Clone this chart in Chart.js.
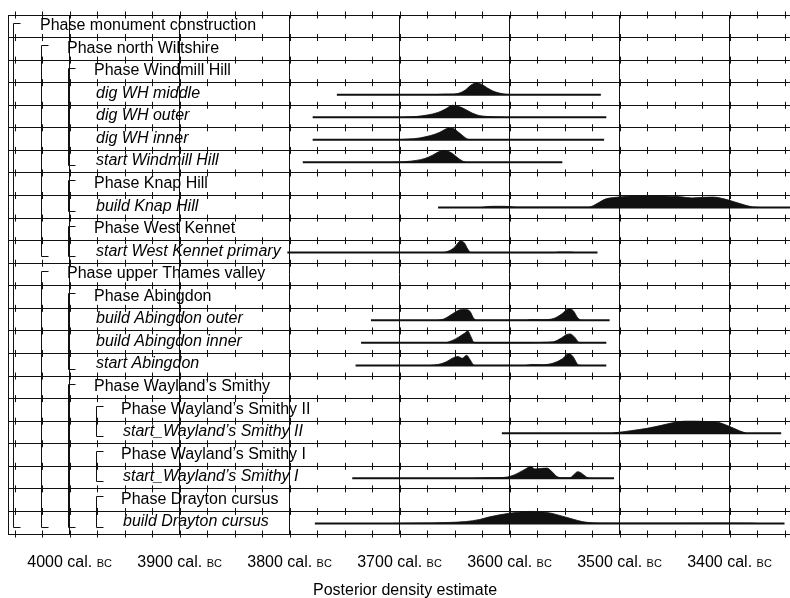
<!DOCTYPE html>
<html><head><meta charset="utf-8">
<script src="https://cdn.jsdelivr.net/npm/chart.js@4/dist/chart.umd.min.js"></script>
<style>html,body{margin:0;padding:0;background:#fff}canvas{display:block}</style>
</head><body>
<canvas id="c" width="790" height="598"></canvas>
<script>
// ---------- rows (top to bottom) ----------
const rowLabels = [
  "Phase monument construction","Phase north Wiltshire","Phase Windmill Hill",
  "dig WH middle","dig WH outer","dig WH inner","start Windmill Hill",
  "Phase Knap Hill","build Knap Hill","Phase West Kennet","start West Kennet primary",
  "Phase upper Thames valley","Phase Abingdon","build Abingdon outer","build Abingdon inner",
  "start Abingdon","Phase Wayland\u2019s Smithy","Phase Wayland\u2019s Smithy II",
  "start_Wayland\u2019s Smithy II","Phase Wayland\u2019s Smithy I","start_Wayland\u2019s Smithy I",
  "Phase Drayton cursus","build Drayton cursus"
];
const rowLevels = [0,1,2,2,2,2,2,2,2,2,2,1,2,2,2,2,2,3,3,3,3,3,3];
const rowIsPhase = [1,1,1,0,0,0,0,1,0,1,0,1,1,0,0,0,1,1,0,1,0,1,0];
// [level, first row, last row]
const brackets = [[0,0,22],[1,1,10],[2,2,6],[2,7,8],[2,9,10],[1,11,22],[2,12,15],[2,16,22],[3,17,18],[3,19,20],[3,21,22]];

// ---------- axis ----------
const tickYears = [4000,3900,3800,3700,3600,3500,3400];
const tickText = "cal.";
const tickEra = "BC";
const axisTitle = "Posterior density estimate";
const axisFrom = 4056, axisTo = 3345;
const minorYears = [];
for (let yr = 4050; yr >= 3350; yr -= 25) minorYears.push(yr);

// ---------- posterior distributions (year cal BC, relative density) ----------
const digWHmiddleYears = [3668,3660,3650,3645,3640,3635,3630,3625,3620,3615,3610,3605,3600];
const digWHmiddleDens  = [0,0.04,0.06,0.15,0.4,0.8,1.0,0.85,0.55,0.3,0.15,0.05,0];
const digWHouterYears = [3695,3685,3675,3665,3658,3652,3646,3640,3634,3628,3620,3612,3605];
const digWHouterDens  = [0,0.06,0.18,0.4,0.7,1.0,0.9,0.65,0.35,0.15,0.06,0.02,0];
const digWHinnerYears = [3702,3692,3682,3672,3664,3658,3654,3650,3646,3642,3638,3635];
const digWHinnerDens  = [0,0.06,0.15,0.35,0.6,0.9,1.0,0.9,0.6,0.3,0.05,0];
const startWHYears = [3706,3695,3685,3677,3670,3664,3660,3655,3650,3646,3642,3639];
const startWHDens  = [0,0.06,0.16,0.32,0.6,0.9,1.0,0.9,0.6,0.3,0.08,0];
const knapHillYears = [3626,3620,3610,3600,3594,3528,3520,3513,3503,3490,3475,3460,3445,3434,3424,3415,3405,3395,3386,3379,3372];
const knapHillDens  = [0,0.08,0.1,0.08,0.03,0.03,0.35,0.7,0.85,0.95,1.0,0.97,0.9,0.8,0.85,0.87,0.72,0.45,0.2,0.05,0];
const westKennetYears = [3660,3655,3650,3646,3644,3641,3638,3635,3560,3555,3545,3540];
const westKennetDens  = [0,0.15,0.45,0.9,1.0,0.8,0.3,0,0,0.05,0.05,0];
const abOuterYears = [3665,3660,3655,3650,3645,3640,3636,3632,3628,3585,3580,3570,3560,3553,3546,3542,3538,3535];
const abOuterDens  = [0,0.1,0.35,0.65,0.88,0.9,0.75,0.1,0,0,0.06,0.05,0.15,0.5,0.97,0.8,0.2,0];
const abInnerYears = [3658,3652,3646,3641,3638,3635,3632,3582,3570,3560,3553,3548,3545,3541,3537,3534];
const abInnerDens  = [0,0.2,0.5,0.8,1.0,0.5,0,0,0.04,0.1,0.4,0.7,0.75,0.5,0.05,0];
const startAbYears = [3672,3665,3658,3652,3647,3643,3639,3636,3632,3586,3580,3570,3560,3552,3546,3542,3538,3535];
const startAbDens  = [0,0.08,0.28,0.6,0.75,0.6,0.85,0.5,0,0,0.08,0.06,0.2,0.55,1.0,0.7,0.08,0];
const startWS2Years = [3506,3490,3475,3462,3452,3440,3430,3420,3410,3403,3396,3391,3385];
const startWS2Dens  = [0,0.2,0.4,0.65,0.86,1.0,1.0,0.97,0.9,0.67,0.4,0.2,0];
const startWS1Years = [3632,3620,3606,3598,3592,3585,3581,3577,3572,3566,3562,3557,3553,3545,3541,3538,3535,3530,3527];
const startWS1Dens  = [0,0.04,0.06,0.2,0.45,0.8,1.0,0.78,0.82,0.85,0.6,0.15,0.04,0.04,0.35,0.55,0.45,0.1,0];
const draytonYears = [3705,3690,3670,3655,3640,3627,3618,3600,3590,3582,3572,3562,3552,3542,3534,3525,3518,3500,3450,3420,3400,3380,3375];
const draytonDens  = [0,0.02,0.04,0.08,0.15,0.33,0.55,0.85,0.95,1.0,0.97,0.85,0.6,0.35,0.15,0.05,0.03,0.02,0.02,0.03,0.03,0.02,0];

// range bars under each distribution
const rangeRows  = [3,4,5,6,8,10,13,14,15,18,20,22];
const rangeFrom  = [3757,3779,3779,3788,3665,3802,3726,3735,3740,3607,3743,3777];
const rangeTo    = [3517,3512,3514,3552,3345,3520,3509,3512,3512,3353,3505,3350];
const distYears  = [digWHmiddleYears,digWHouterYears,digWHinnerYears,startWHYears,knapHillYears,westKennetYears,abOuterYears,abInnerYears,startAbYears,startWS2Years,startWS1Years,draytonYears];
const distDens   = [digWHmiddleDens,digWHouterDens,digWHinnerDens,startWHDens,knapHillDens,westKennetDens,abOuterDens,abInnerDens,startAbDens,startWS2Dens,startWS1Dens,draytonDens];

const BASE = 0.53, PEAK = 0.53;
const INK = '#111';
const datasets = [];
rangeRows.forEach((row, k) => {
  const base = row + BASE;
  datasets.push({
    data: distYears[k].map((yr, i) => ({x: yr, y: base - distDens[k][i] * PEAK})),
    borderColor: INK, backgroundColor: INK, borderWidth: 0.8,
    fill: {value: base}, pointRadius: 0, cubicInterpolationMode: 'monotone'
  });
  datasets.push({
    data: [{x: rangeFrom[k], y: base}, {x: rangeTo[k], y: base}],
    borderColor: INK, borderWidth: 2, fill: false, pointRadius: 0
  });
});

const FONT = '"Liberation Sans", Arial, Helvetica, sans-serif';
const overlay = {
  id: 'overlay',
  beforeDatasetsDraw(chart) {
    const {ctx, chartArea: a, scales: {x, y}} = chart;
    ctx.save();
    ctx.strokeStyle = INK; ctx.lineWidth = 1;
    ctx.beginPath();
    for (let r = 0; r <= rowLabels.length; r++) {
      const py = y.getPixelForValue(r);
      minorYears.forEach(yr => {
        const px = Math.round(x.getPixelForValue(yr)) + 0.5;
        ctx.moveTo(px, py - 3.5); ctx.lineTo(px, py + 3.5);
      });
    }
    ctx.stroke();
    // phase brackets
    ctx.beginPath();
    brackets.forEach(([lev, r0, r1]) => {
      const bx = Math.round(a.left + 5 + lev * 27.5) + 0.5;
      const t = Math.round(y.getPixelForValue(r0) + 7.5) + 0.5;
      const b = Math.round(y.getPixelForValue(r1 + 1) - 7.5) + 0.5;
      ctx.moveTo(bx + 7, t); ctx.lineTo(bx, t); ctx.lineTo(bx, b); ctx.lineTo(bx + 7, b);
    });
    ctx.stroke();
    ctx.restore();
  },
  afterDraw(chart) {
    const {ctx, chartArea: a, scales: {x, y}} = chart;
    ctx.save();
    ctx.fillStyle = '#000';
    ctx.textBaseline = 'alphabetic';
    ctx.textAlign = 'left';
    rowLabels.forEach((lab, r) => {
      ctx.font = (rowIsPhase[r] ? '' : 'italic ') + '16px ' + FONT;
      const tx = a.left + 32 + rowLevels[r] * 27 + (rowIsPhase[r] ? 0 : 2);
      ctx.fillText(lab, tx, y.getPixelForValue(r) + 15);
    });
    // x tick labels with small-caps era
    tickYears.forEach(yr => {
      const big = yr + ' ' + tickText + ' ';
      ctx.font = '16px ' + FONT; const w1 = ctx.measureText(big).width;
      ctx.font = '11px ' + FONT; const w2 = ctx.measureText(tickEra).width;
      const cx = x.getPixelForValue(yr);
      const sx = cx - (w1 + w2) / 2;
      ctx.font = '16px ' + FONT; ctx.fillText(big, sx, a.bottom + 33);
      ctx.font = '11px ' + FONT; ctx.fillText(tickEra, sx + w1, a.bottom + 33);
    });
    ctx.font = '16px ' + FONT;
    ctx.textAlign = 'center';
    ctx.fillText(axisTitle, (a.left + a.right) / 2 + 6, a.bottom + 61);
    ctx.restore();
  }
};

new Chart(document.getElementById('c'), {
  type: 'line',
  data: {datasets},
  options: {
    responsive: false, animation: false, devicePixelRatio: 1,
    layout: {padding: {left: 8, top: 15, right: 0, bottom: 64}},
    plugins: {legend: {display: false}, tooltip: {enabled: false}},
    scales: {
      x: {
        type: 'linear', min: axisTo, max: axisFrom, reverse: true,
        afterBuildTicks: s => { s.ticks = tickYears.map(v => ({value: v})); },
        ticks: {display: false},
        grid: {color: INK, lineWidth: 1, drawTicks: false},
        border: {display: false}
      },
      y: {
        type: 'linear', min: 0, max: rowLabels.length, reverse: true,
        afterBuildTicks: s => { s.ticks = rowLabels.concat(['']).map((_, i) => ({value: i})); },
        ticks: {display: false},
        grid: {color: INK, lineWidth: 1, drawTicks: false},
        border: {display: true, color: INK, width: 1}
      }
    }
  },
  plugins: [overlay]
});
</script>
</body></html>
